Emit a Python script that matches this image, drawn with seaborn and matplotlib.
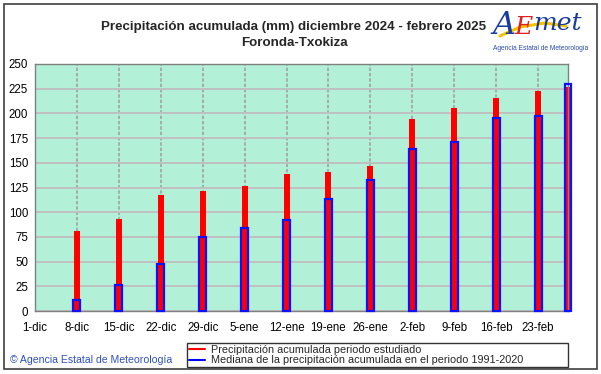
import numpy as np
import pandas as pd
import matplotlib
matplotlib.use("Agg")
import matplotlib.pyplot as plt
import seaborn as sns
from matplotlib.lines import Line2D
from matplotlib.patches import Rectangle

# -----------------------------------------------------
# Data
# -----------------------------------------------------
dias = [7, 14, 21, 28, 35, 42, 49, 56, 63, 70, 77, 84, 89]
acumulada = [81, 93, 117, 121, 127, 139, 141, 147, 194, 205, 216, 223, 227]
mediana = [11, 26, 48, 75, 84, 92, 113, 133, 164, 171, 195, 197, 230]

tick_dias = [0, 7, 14, 21, 28, 35, 42, 49, 56, 63, 70, 77, 84]
tick_labels = ["1-dic", "8-dic", "15-dic", "22-dic", "29-dic", "5-ene", "12-ene",
               "19-ene", "26-ene", "2-feb", "9-feb", "16-feb", "23-feb"]
y_ticks = list(range(0, 251, 25))

df = pd.DataFrame({"dia": dias, "acumulada": acumulada, "mediana": mediana})

# -----------------------------------------------------
# Figure
# -----------------------------------------------------
sns.set_theme(style="white")
plt.rcParams["font.family"] = ["Liberation Sans", "DejaVu Sans"]

W, H = 601, 374
fig = plt.figure(figsize=(W / 100, H / 100), dpi=100)
ax = fig.add_axes([35 / W, 1 - 311 / H, (568 - 35) / W, (311 - 64) / H])
ax.set_facecolor("#b2f0d8")
ax.set_axisbelow(True)

# red bars: accumulated precipitation
sns.barplot(data=df, x="dia", y="acumulada", native_scale=True, width=0.2,
            color="#ff0000", saturation=1, linewidth=0, ax=ax)
n_red = len(ax.patches)
# blue outline bars: median 1991-2020
sns.barplot(data=df, x="dia", y="mediana", native_scale=True, width=0.233,
            fill=False, color="#0000ff", linewidth=1.6, ax=ax)
for i, p in enumerate(ax.patches):
    p.set_clip_on(False)
    if i >= n_red:
        p.set_edgecolor("#1010ff")
        p.set_zorder(3)
    else:
        p.set_zorder(2)

ax.set_xlim(0, 89)
ax.set_ylim(0, 250)
ax.set_xticks(tick_dias)
ax.set_xticklabels(tick_labels)
ax.set_yticks(y_ticks)
ax.set_xlabel("")
ax.set_ylabel("")
ax.tick_params(axis="both", length=0, labelsize=8.3, colors="black")
ax.tick_params(axis="x", pad=8)
ax.tick_params(axis="y", pad=5)

ax.yaxis.grid(True, color="#c0c0c0", linewidth=1.4, linestyle="-")
ax.xaxis.grid(True, color="#a0a0a0", linewidth=1.2, linestyle=(0, (2, 1.2)))
for s in ax.spines.values():
    s.set_color("#808080")
    s.set_linewidth(1.0)
    s.set_visible(True)

# titles
fig.text(294 / W, 1 - 27 / H, "Precipitación acumulada (mm) diciembre 2024 - febrero 2025",
         ha="center", va="center", fontsize=9.6, fontweight="bold")
fig.text(294 / W, 1 - 43 / H, "Foronda-Txokiza",
         ha="center", va="center", fontsize=9.6, fontweight="bold")

# logo (text version)
swoosh = Line2D([500 / W, 520 / W, 545 / W, 566 / W],
                [1 - 36 / H, 1 - 27 / H, 1 - 23 / H, 1 - 26 / H],
                transform=fig.transFigure, color="#f5c400", linewidth=2.2,
                solid_capstyle="round")
fig.lines.append(swoosh)
fig.text(492 / W, 1 - 25 / H, "A", color="#1a3c9c", fontsize=23, style="italic",
         ha="left", va="center", family=["DejaVu Serif"])
fig.text(514 / W, 1 - 27 / H, "E", color="#e02020", fontsize=18, style="italic",
         ha="left", va="center", family=["DejaVu Serif"])
fig.text(533 / W, 1 - 24 / H, "met", color="#1a3c9c", fontsize=18, style="italic",
         ha="left", va="center", family=["DejaVu Serif"])
fig.text(541 / W, 1 - 49 / H, "Agencia Estatal de Meteorología", color="#2a4aa8",
         fontsize=4.8, ha="center", va="center")

# copyright
fig.text(10 / W, 1 - 360 / H, "© Agencia Estatal de Meteorología", color="#3050c0",
         fontsize=7.6, ha="left", va="center")

# legend
handles = [Line2D([], [], color="#ff0000", linewidth=1.5),
           Line2D([], [], color="#0000ff", linewidth=1.5)]
labels = ["Precipitación acumulada periodo estudiado",
          "Mediana de la precipitación acumulada en el periodo 1991-2020"]
leg = fig.legend(handles, labels, loc="lower left",
                 bbox_to_anchor=(187 / W, 1 - 367 / H, (568 - 187) / W, 30 / H),
                 mode="expand", fontsize=7.8, handlelength=1.5, handletextpad=0.6,
                 borderpad=0.15, labelspacing=0.05, borderaxespad=0,
                 fancybox=False, frameon=True)
leg.get_frame().set_edgecolor("black")
leg.get_frame().set_linewidth(1.0)

# figure border
fig.patches.append(Rectangle((4 / W, 1 - 369 / H), 593 / W, 365 / H,
                             transform=fig.transFigure, fill=False,
                             edgecolor="#404040", linewidth=1.2))

fig.savefig("out.png", dpi=100, facecolor="white")
